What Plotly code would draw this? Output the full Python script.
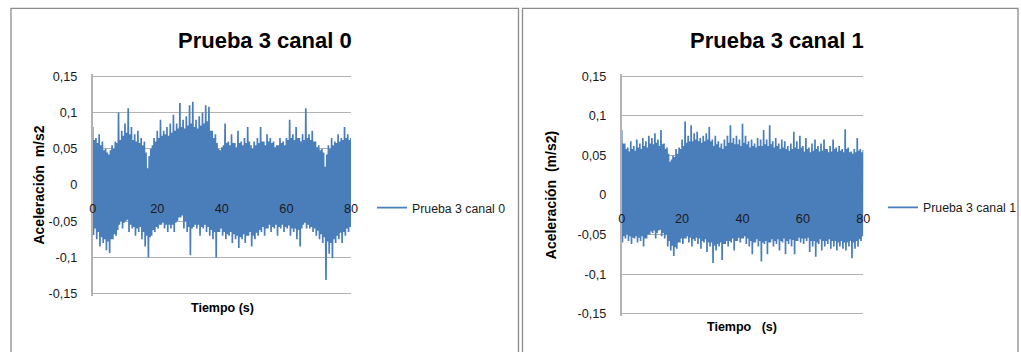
import plotly.graph_objects as go

# Canvas size in pixels
W, H = 1021, 352

# Sample times (s): positive peaks every 0.5 s, negative peaks 0.25 s after each one
tiempo_sup = [i * 0.5 for i in range(161)]
tiempo_inf = [i * 0.5 + 0.25 for i in range(160)]

# Prueba 3, canal 0: positive peaks (m/s2), two per second
canal0_sup = [
    0.080, 0.062, 0.065, 0.058, 0.070, 0.055, 0.060, 0.048, 0.050, 0.045,
    0.042, 0.048, 0.055, 0.050, 0.060, 0.058, 0.100, 0.062, 0.075, 0.068,
    0.085, 0.072, 0.106, 0.070, 0.080, 0.062, 0.070, 0.060, 0.075, 0.058,
    0.065, 0.055, 0.060, 0.045, 0.023, 0.040, 0.050, 0.055, 0.065, 0.060,
    0.075, 0.065, 0.090, 0.068, 0.075, 0.070, 0.080, 0.068, 0.085, 0.072,
    0.097, 0.075, 0.085, 0.078, 0.113, 0.080, 0.090, 0.078, 0.095, 0.082,
    0.110, 0.085, 0.115, 0.080, 0.090, 0.078, 0.095, 0.082, 0.100, 0.085,
    0.110, 0.088, 0.108, 0.075, 0.075, 0.065, 0.070, 0.058, 0.050, 0.048,
    0.052, 0.055, 0.085, 0.058, 0.060, 0.055, 0.070, 0.058, 0.058, 0.052,
    0.075, 0.058, 0.060, 0.055, 0.065, 0.058, 0.080, 0.060, 0.055, 0.050,
    0.060, 0.055, 0.065, 0.058, 0.080, 0.060, 0.060, 0.055, 0.070, 0.060,
    0.065, 0.058, 0.060, 0.052, 0.055, 0.055, 0.065, 0.058, 0.060, 0.055,
    0.065, 0.062, 0.090, 0.065, 0.070, 0.062, 0.080, 0.065, 0.065, 0.060,
    0.070, 0.062, 0.106, 0.065, 0.070, 0.062, 0.075, 0.060, 0.060, 0.052,
    0.055, 0.048, 0.050, 0.045, 0.025, 0.042, 0.055, 0.050, 0.065, 0.055,
    0.060, 0.058, 0.070, 0.060, 0.065, 0.062, 0.080, 0.065, 0.070, 0.062,
    0.065,
]
# Prueba 3, canal 0: negative peaks (m/s2), two per second
canal0_inf = [
    -0.069, -0.060, -0.075, -0.065, -0.085, -0.072, -0.080, -0.075, -0.090, -0.078,
    -0.094, -0.075, -0.075, -0.068, -0.070, -0.062, -0.055, -0.050, -0.060, -0.052,
    -0.050, -0.048, -0.065, -0.055, -0.060, -0.058, -0.070, -0.060, -0.065, -0.058,
    -0.075, -0.065, -0.085, -0.070, -0.100, -0.072, -0.070, -0.062, -0.065, -0.058,
    -0.060, -0.055, -0.055, -0.052, -0.060, -0.055, -0.065, -0.055, -0.060, -0.055,
    -0.065, -0.052, -0.050, -0.045, -0.045, -0.042, -0.060, -0.050, -0.065, -0.058,
    -0.097, -0.060, -0.058, -0.055, -0.060, -0.055, -0.070, -0.058, -0.060, -0.055,
    -0.065, -0.058, -0.070, -0.062, -0.075, -0.065, -0.100, -0.065, -0.065, -0.060,
    -0.070, -0.065, -0.075, -0.068, -0.070, -0.065, -0.080, -0.068, -0.075, -0.070,
    -0.087, -0.072, -0.075, -0.068, -0.080, -0.070, -0.070, -0.065, -0.085, -0.070,
    -0.075, -0.066, -0.070, -0.062, -0.065, -0.058, -0.070, -0.060, -0.060, -0.055,
    -0.065, -0.058, -0.060, -0.055, -0.070, -0.058, -0.060, -0.055, -0.065, -0.058,
    -0.060, -0.056, -0.070, -0.060, -0.065, -0.060, -0.075, -0.062, -0.085, -0.060,
    -0.055, -0.052, -0.060, -0.055, -0.060, -0.058, -0.065, -0.060, -0.070, -0.063,
    -0.075, -0.068, -0.080, -0.072, -0.131, -0.078, -0.095, -0.080, -0.101, -0.075,
    -0.080, -0.070, -0.075, -0.066, -0.080, -0.065, -0.070, -0.060, -0.065, -0.058,
]

# Prueba 3, canal 1: positive peaks (m/s2), two per second
canal1_sup = [
    0.082, 0.065, 0.065, 0.058, 0.060, 0.055, 0.068, 0.058, 0.062, 0.056,
    0.070, 0.060, 0.065, 0.058, 0.072, 0.062, 0.068, 0.060, 0.075, 0.065,
    0.072, 0.064, 0.078, 0.066, 0.070, 0.062, 0.082, 0.064, 0.065, 0.058,
    0.060, 0.052, 0.042, 0.045, 0.050, 0.048, 0.058, 0.052, 0.060, 0.058,
    0.070, 0.062, 0.093, 0.066, 0.075, 0.068, 0.088, 0.068, 0.078, 0.070,
    0.080, 0.068, 0.072, 0.066, 0.075, 0.068, 0.078, 0.070, 0.086, 0.068,
    0.070, 0.062, 0.075, 0.064, 0.068, 0.060, 0.065, 0.058, 0.070, 0.062,
    0.075, 0.066, 0.088, 0.066, 0.072, 0.064, 0.075, 0.064, 0.070, 0.062,
    0.090, 0.066, 0.075, 0.064, 0.068, 0.060, 0.070, 0.062, 0.065, 0.060,
    0.072, 0.062, 0.070, 0.062, 0.082, 0.064, 0.070, 0.062, 0.088, 0.064,
    0.068, 0.060, 0.072, 0.062, 0.065, 0.058, 0.070, 0.060, 0.068, 0.058,
    0.062, 0.056, 0.065, 0.058, 0.080, 0.060, 0.068, 0.058, 0.075, 0.060,
    0.062, 0.055, 0.072, 0.058, 0.060, 0.054, 0.065, 0.056, 0.070, 0.058,
    0.062, 0.055, 0.065, 0.056, 0.070, 0.058, 0.058, 0.054, 0.062, 0.055,
    0.070, 0.058, 0.060, 0.055, 0.062, 0.056, 0.058, 0.054, 0.083, 0.058,
    0.060, 0.054, 0.055, 0.052, 0.058, 0.054, 0.072, 0.056, 0.058, 0.054,
    0.057,
]
# Prueba 3, canal 1: negative peaks (m/s2), two per second
canal1_inf = [
    -0.060, -0.052, -0.055, -0.050, -0.058, -0.052, -0.062, -0.054, -0.055, -0.052,
    -0.060, -0.054, -0.058, -0.052, -0.065, -0.055, -0.055, -0.050, -0.050, -0.046,
    -0.048, -0.045, -0.055, -0.048, -0.045, -0.044, -0.052, -0.048, -0.055, -0.050,
    -0.065, -0.058, -0.070, -0.064, -0.077, -0.066, -0.068, -0.060, -0.060, -0.055,
    -0.062, -0.055, -0.055, -0.052, -0.060, -0.054, -0.065, -0.056, -0.058, -0.054,
    -0.062, -0.055, -0.068, -0.058, -0.060, -0.056, -0.072, -0.060, -0.065, -0.060,
    -0.086, -0.064, -0.070, -0.062, -0.065, -0.060, -0.082, -0.062, -0.062, -0.058,
    -0.065, -0.058, -0.060, -0.055, -0.070, -0.058, -0.058, -0.054, -0.060, -0.055,
    -0.055, -0.052, -0.062, -0.055, -0.065, -0.058, -0.075, -0.060, -0.060, -0.056,
    -0.065, -0.058, -0.084, -0.060, -0.062, -0.058, -0.075, -0.060, -0.060, -0.056,
    -0.065, -0.058, -0.062, -0.056, -0.070, -0.058, -0.060, -0.055, -0.075, -0.058,
    -0.062, -0.056, -0.065, -0.057, -0.075, -0.058, -0.058, -0.054, -0.060, -0.055,
    -0.062, -0.055, -0.058, -0.054, -0.072, -0.058, -0.065, -0.058, -0.078, -0.060,
    -0.062, -0.056, -0.070, -0.058, -0.065, -0.058, -0.062, -0.056, -0.068, -0.058,
    -0.065, -0.058, -0.070, -0.060, -0.065, -0.058, -0.068, -0.060, -0.070, -0.060,
    -0.065, -0.058, -0.080, -0.060, -0.068, -0.058, -0.065, -0.056, -0.058, -0.052,
]

# Axis ticks
y_ticks = [-0.15, -0.10, -0.05, 0.0, 0.05, 0.10, 0.15]
y_tick_text = ["-0,15", "-0,1", "-0,05", "0", "0,05", "0,1", "0,15"]
x_ticks = [0, 20, 40, 60, 80]
x_tick_text = ["0", "20", "40", "60", "80"]

FONT = "Liberation Sans, Arial, sans-serif"
BLUE = "#4a7ebb"
GRID = "#b2b2b2"
FRAME = "#8c8c8c"
TEXT = "#1a1a1a"
Y_PAD = 0.0025  # keeps the outer gridlines just inside the plot area


def px_x(x):
    return x / W


def px_y(y):
    return 1 - y / H


def zigzag(sup, inf):
    t, a = [], []
    for i in range(len(inf)):
        t += [tiempo_sup[i], tiempo_inf[i]]
        a += [sup[i], inf[i]]
    t.append(tiempo_sup[-1])
    a.append(sup[-1])
    return t, a


t0, a0 = zigzag(canal0_sup, canal0_inf)
t1, a1 = zigzag(canal1_sup, canal1_inf)

fig = go.Figure()
fig.add_trace(go.Scatter(x=t0, y=a0, mode="lines", name="Prueba 3 canal 0",
                         line=dict(color=BLUE, width=1.7, simplify=False),
                         xaxis="x", yaxis="y", legend="legend"))
fig.add_trace(go.Scatter(x=t1, y=a1, mode="lines", name="Prueba 3 canal 1",
                         line=dict(color=BLUE, width=1.7, simplify=False),
                         xaxis="x2", yaxis="y2", legend="legend2"))

# Plot-area geometry of each chart (pixels): +0.15 line at top, -0.15 line at bottom
charts = [
    dict(x0=92.7, x1=351.0, top=76.3, bottom=293.7),
    dict(x0=621.7, x1=863.3, top=76.3, bottom=313.7),
]


def y_domain(c):
    pad_px = (c["bottom"] - c["top"]) * Y_PAD / 0.30
    return [px_y(c["bottom"] + pad_px), px_y(c["top"] - pad_px)]


def zero_line(c):
    return c["top"] + (c["bottom"] - c["top"]) / 2


xaxis_common = dict(range=[0, 80], tickvals=x_ticks, ticktext=x_tick_text,
                    showgrid=False, zeroline=False, showline=False, ticks="",
                    anchor="free", ticklabelstandoff=14,
                    tickfont=dict(family=FONT, size=12.7, color=TEXT))
yaxis_common = dict(range=[-0.15 - Y_PAD, 0.15 + Y_PAD], tickvals=y_ticks,
                    ticktext=y_tick_text, showgrid=True, gridcolor=GRID, gridwidth=1.2,
                    zeroline=False, showline=True, linecolor=GRID, linewidth=1.5,
                    ticks="", ticklabelstandoff=11,
                    tickfont=dict(family=FONT, size=12.7, color=TEXT))

c0, c1 = charts
fig.update_layout(
    xaxis=dict(xaxis_common, domain=[px_x(c0["x0"]), px_x(c0["x1"])],
               position=px_y(zero_line(c0))),
    yaxis=dict(yaxis_common, domain=y_domain(c0), anchor="x",
               title=dict(text="Aceleración\u00a0\u00a0m/s2", standoff=1,
                          font=dict(family=FONT, size=14, weight="bold", color="#000"))),
    xaxis2=dict(xaxis_common, domain=[px_x(c1["x0"]), px_x(c1["x1"])],
                position=px_y(zero_line(c1))),
    yaxis2=dict(yaxis_common, domain=y_domain(c1), anchor="x2",
                title=dict(text="Aceleración\u00a0\u00a0(m/s2)", standoff=18,
                           font=dict(family=FONT, size=14, weight="bold", color="#000"))),
)

legend_common = dict(xanchor="left", yanchor="middle", bgcolor="rgba(0,0,0,0)",
                     borderwidth=0, font=dict(family=FONT, size=12.3, color=TEXT))
fig.update_layout(
    legend=dict(legend_common, x=px_x(372), y=px_y(207.7)),
    legend2=dict(legend_common, x=px_x(883), y=px_y(207.3)),
)

# Chart frames
for x0, x1 in [(11, 518.5), (522.5, 1018)]:
    fig.add_shape(type="rect", xref="paper", yref="paper",
                  x0=px_x(x0), x1=px_x(x1), y0=px_y(370), y1=px_y(8.3),
                  line=dict(color=FRAME, width=1.3), fillcolor="rgba(0,0,0,0)")

# Chart titles and time-axis titles
for text, x, y in [("Prueba 3 canal 0", 264.5, 40), ("Prueba 3 canal 1", 776.5, 40)]:
    fig.add_annotation(text=text, x=px_x(x), y=px_y(y), xref="paper", yref="paper",
                       showarrow=False, xanchor="center", yanchor="middle",
                       font=dict(family=FONT, size=22, weight="bold", color="#000"))
for text, x, y in [("Tiempo (s)", 222, 308), ("Tiempo\u00a0\u00a0\u00a0(s)", 741.7, 326.7)]:
    fig.add_annotation(text=text, x=px_x(x), y=px_y(y), xref="paper", yref="paper",
                       showarrow=False, xanchor="center", yanchor="middle",
                       font=dict(family=FONT, size=12.5, weight="bold", color="#000"))

fig.update_layout(width=W, height=H,
                  margin=dict(l=0, r=0, t=0, b=0, autoexpand=False),
                  paper_bgcolor="white", plot_bgcolor="white", showlegend=True)

fig.write_html("out.html")
